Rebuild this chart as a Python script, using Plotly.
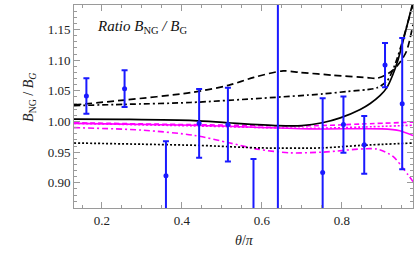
import plotly.graph_objects as go

# ---- data points (theta/pi, ratio, error) ----
pt_x = [0.161, 0.2565, 0.360, 0.443, 0.515, 0.579, 0.640, 0.752, 0.804, 0.856, 0.908, 0.951]
pt_y = [1.0415, 1.0536, 0.9115, 0.997, 0.995, 0.855, 0.820, 0.917, 0.995, 0.962, 1.092, 1.029]
pt_err = [0.029, 0.030, 0.0565, 0.056, 0.060, 0.084, 0.450, 0.121, 0.046, 0.047, 0.036, 0.107]

# ---- black curves ----
bs_x = [0.13, 0.25, 0.43, 0.515, 0.64, 0.70, 0.751, 0.796, 0.846, 0.871, 0.896, 0.913, 0.928, 0.941, 0.953, 0.966, 0.978]
bs_y = [1.004, 1.0035, 1.0016, 0.998, 0.9934, 0.9934, 0.998, 1.006, 1.0197, 1.0295, 1.0426, 1.0557, 1.077, 1.1016, 1.131, 1.164, 1.195]

bd_x = [0.13, 0.256, 0.421, 0.516, 0.58, 0.653, 0.696, 0.778, 0.863, 0.888, 0.913, 0.93, 0.946, 0.962, 0.978]
bd_y = [1.027, 1.035, 1.047, 1.059, 1.072, 1.0825, 1.080, 1.0755, 1.0716, 1.0705, 1.077, 1.085, 1.097, 1.115, 1.158]

bdd_x = [0.13, 0.256, 0.421, 0.60, 0.752, 0.813, 0.863, 0.888, 0.913, 0.933, 0.953, 0.971, 0.98]
bdd_y = [1.026, 1.028, 1.031, 1.038, 1.045, 1.049, 1.052, 1.055, 1.066, 1.093, 1.134, 1.175, 1.195]

bdot_x = [0.13, 0.30, 0.446, 0.596, 0.75, 0.846, 0.978]
bdot_y = [0.965, 0.963, 0.961, 0.957, 0.957, 0.961, 0.965]

# ---- magenta curves ----
ms_x = [0.13, 0.43, 0.72, 0.90, 0.945, 0.978]
ms_y = [0.997, 0.994, 0.988, 0.988, 0.985, 0.977]

md_x = [0.13, 0.42, 0.72, 0.85, 0.978]
md_y = [0.998, 0.995, 0.993, 0.996, 0.999]

mdot_x = [0.13, 0.42, 0.72, 0.85, 0.978]
mdot_y = [0.997, 0.993, 0.989, 0.991, 0.994]

mdd_x = [0.13, 0.30, 0.43, 0.52, 0.588, 0.67, 0.75, 0.888, 0.928, 0.953, 0.978]
mdd_y = [0.990, 0.986, 0.9775, 0.965, 0.955, 0.949, 0.950, 0.955, 0.943, 0.924, 0.902]

xticks = [0.2, 0.4, 0.6, 0.8]
yticks = [0.90, 0.95, 1.00, 1.05, 1.10, 1.15]

BLUE = "#1a1aff"
MAG = "#ff00ff"
SERIF = "Liberation Serif, Times New Roman, serif"

fig = go.Figure()

def curve(x, y, color, dash, width=1.6):
    fig.add_trace(go.Scatter(x=x, y=y, mode="lines",
                             line=dict(color=color, dash=dash, width=width, shape="spline", smoothing=0.8),
                             hoverinfo="skip", showlegend=False))

curve(mdd_x, mdd_y, MAG, "6px,3px,2px,3px")
curve(mdot_x, mdot_y, MAG, "2px,2px")
curve(md_x, md_y, MAG, "5px,3px")
curve(ms_x, ms_y, MAG, "solid")
curve(bdot_x, bdot_y, "black", "2px,2px", 1.7)
curve(bdd_x, bdd_y, "black", "6px,3px,2px,3px", 1.7)
curve(bd_x, bd_y, "black", "7px,4px", 1.7)
curve(bs_x, bs_y, "black", "solid", 1.7)

fig.add_trace(go.Scatter(
    x=pt_x, y=pt_y, mode="markers",
    marker=dict(color=BLUE, size=5),
    error_y=dict(type="data", array=pt_err, color=BLUE, thickness=2, width=3),
    showlegend=False, hoverinfo="skip"))

axis_common = dict(
    showgrid=False, zeroline=False, showline=True, linecolor="#9a9a9a", linewidth=1,
    mirror="allticks", ticks="inside", ticklen=6, tickcolor="#9a9a9a", tickwidth=1,
    tickfont=dict(family=SERIF, size=13, color="#222"),
)

fig.update_xaxes(range=[0.13, 0.978], tickvals=xticks, ticktext=[f"{v:.1f}" for v in xticks],
                 minor=dict(ticks="inside", ticklen=3, dtick=0.05, tickcolor="#9a9a9a"),
                 **axis_common)
fig.update_yaxes(range=[0.859, 1.19], tickvals=yticks, ticktext=[f"{v:.2f}" for v in yticks],
                 minor=dict(ticks="inside", ticklen=3, dtick=0.01, tickcolor="#9a9a9a"),
                 **axis_common)

fig.update_layout(
    width=419, height=259,
    margin=dict(l=74, r=6, t=5, b=51),
    plot_bgcolor="white", paper_bgcolor="white",
    annotations=[
        dict(text="<i>Ratio B</i><sub>NG</sub><i> / B</i><sub>G</sub>", xref="paper", yref="paper",
             x=0.062, y=0.892, xanchor="left", yanchor="middle", showarrow=False,
             font=dict(family=SERIF, size=15, color="#111")),
        dict(text="<i>B</i><sub>NG</sub> / <i>B</i><sub><i>G</i></sub>", xref="paper", yref="paper",
             x=-0.13, y=0.547, xanchor="center", yanchor="middle", showarrow=False, textangle=-90,
             font=dict(family=SERIF, size=14, color="#222")),
        dict(text="<i>θ</i>/<i>π</i>", xref="paper", yref="paper",
             x=0.504, y=-0.158, xanchor="center", yanchor="middle", showarrow=False,
             font=dict(family=SERIF, size=14, color="#222")),
    ],
)

fig.write_html("out.html", config={"displayModeBar": False},
               post_script="document.body.style.margin='0';document.body.style.overflow='hidden';")
